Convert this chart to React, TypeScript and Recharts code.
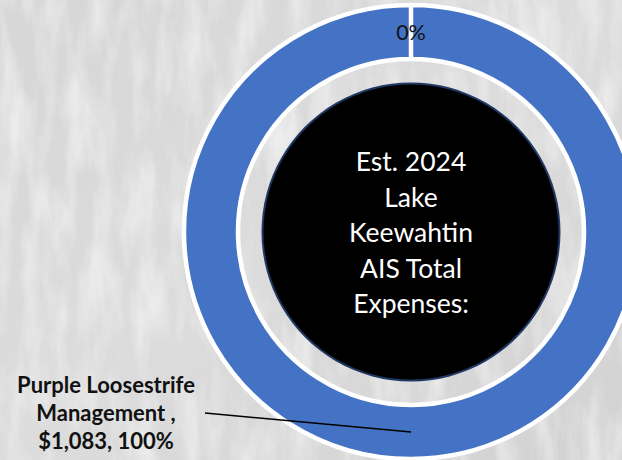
import { PieChart, Pie, Cell, Label } from "recharts";

// expense categories (Excel doughnut: one real slice + an empty one)
const categories = ["Purple Loosestrife Management ", "Other"];
const amounts = [1083, 0];
const centerTitle = ["Est. 2024", "Lake", "Keewahtin", "AIS Total", "Expenses:"];

const data = categories.map((name, i) => ({ name, value: amounts[i] }));

const W = 622;
const H = 460;
const CX = 411;
const CY = 232;
const RAD = Math.PI / 180;
const FONT = "Lato, 'Open Sans', sans-serif";

const fmtMoney = (v: number) => "$" + v.toLocaleString("en-US");

const renderLabel = (p: any) => {
  const { cx, cy, midAngle, innerRadius, outerRadius, percent, value, name } = p;
  const r = (innerRadius + outerRadius) / 2;
  const mx = cx + r * Math.cos(-midAngle * RAD);
  const my = cy + r * Math.sin(-midAngle * RAD);
  const pct = Math.round(percent * 100) + "%";
  if (!value) {
    return (
      <text x={mx} y={my} textAnchor="middle" dominantBaseline="central" fontSize={21.5} fill="#111" fontFamily={FONT}>
        {pct}
      </text>
    );
  }
  const lx = cx - 206;
  const ly = cy + 181;
  const tx = cx - 305;
  const lines = ["Purple Loosestrife", name.replace("Purple Loosestrife ", "") + ",", `${fmtMoney(value)}, ${pct}`];
  return (
    <g>
      <line x1={lx} y1={ly} x2={mx} y2={my} stroke="#000" strokeWidth={1.5} />
      <text textAnchor="middle" fontSize={22} fontWeight={700} fill="#111" fontFamily={FONT}>
        {lines.map((t, i) => (
          <tspan key={i} x={tx} y={cy + 161 + i * 28}>
            {t}
          </tspan>
        ))}
      </text>
    </g>
  );
};

const CenterText = (props: any) => {
  const vb = props.viewBox || {};
  const cx = vb.cx ?? CX;
  const cy = vb.cy ?? CY;
  return (
    <text textAnchor="middle" fill="#fff" fontSize={26.5} fontFamily={FONT}>
      {centerTitle.map((t, i) => (
        <tspan key={i} x={cx} y={cy + 10 + (i - 2) * 35.5}>
          {t}
        </tspan>
      ))}
    </text>
  );
};

function Texture() {
  return (
    <svg width={W} height={H} style={{ position: "absolute", left: 0, top: 0 }}>
      <defs>
        <filter id="snow" x="0" y="0" width="100%" height="100%">
          <feTurbulence type="fractalNoise" baseFrequency="0.045 0.012" numOctaves={4} seed={3} />
          <feColorMatrix
            type="matrix"
            values="0 0 0 0 1  0 0 0 0 1  0 0 0 0 1  1.4 0 0 0 -0.55"
          />
        </filter>
        <linearGradient id="bg" x1="0" y1="0" x2="1" y2="1">
          <stop offset="0" stopColor="#d6d6d6" />
          <stop offset="0.5" stopColor="#dcdcdc" />
          <stop offset="1" stopColor="#d2d2d2" />
        </linearGradient>
      </defs>
      <rect width={W} height={H} fill="url(#bg)" />
      <rect width={W} height={H} filter="url(#snow)" opacity={0.8} />
    </svg>
  );
}

export default function App() {
  return (
    <div style={{ position: "fixed", left: 0, top: 0, width: W, height: H, overflow: "hidden" }}>
      <Texture />
      <div style={{ position: "absolute", left: 0, top: 0 }}>
        <PieChart width={W} height={H} margin={{ top: 0, right: 0, bottom: 0, left: 0 }}>
          <Pie
            data={[{ name: "edge", value: 1 }]}
            dataKey="value"
            cx={CX}
            cy={CY}
            innerRadius={0}
            outerRadius={149.5}
            fill="#1f3864"
            stroke="none"
            isAnimationActive={false}
          />
          <Pie
            data={[{ name: "center", value: 1 }]}
            dataKey="value"
            cx={CX}
            cy={CY}
            innerRadius={0}
            outerRadius={147.5}
            fill="#000"
            stroke="none"
            isAnimationActive={false}
          >
            <Label position="center" content={<CenterText />} />
          </Pie>
          <Pie
            data={data}
            dataKey="value"
            cx={CX}
            cy={CY}
            startAngle={90}
            endAngle={-270}
            innerRadius={173}
            outerRadius={227}
            stroke="#fff"
            strokeWidth={4.5}
            label={renderLabel}
            labelLine={false}
            isAnimationActive={false}
          >
            {data.map((d) => (
              <Cell key={d.name} fill="#4472c4" />
            ))}
          </Pie>
        </PieChart>
      </div>
    </div>
  );
}
